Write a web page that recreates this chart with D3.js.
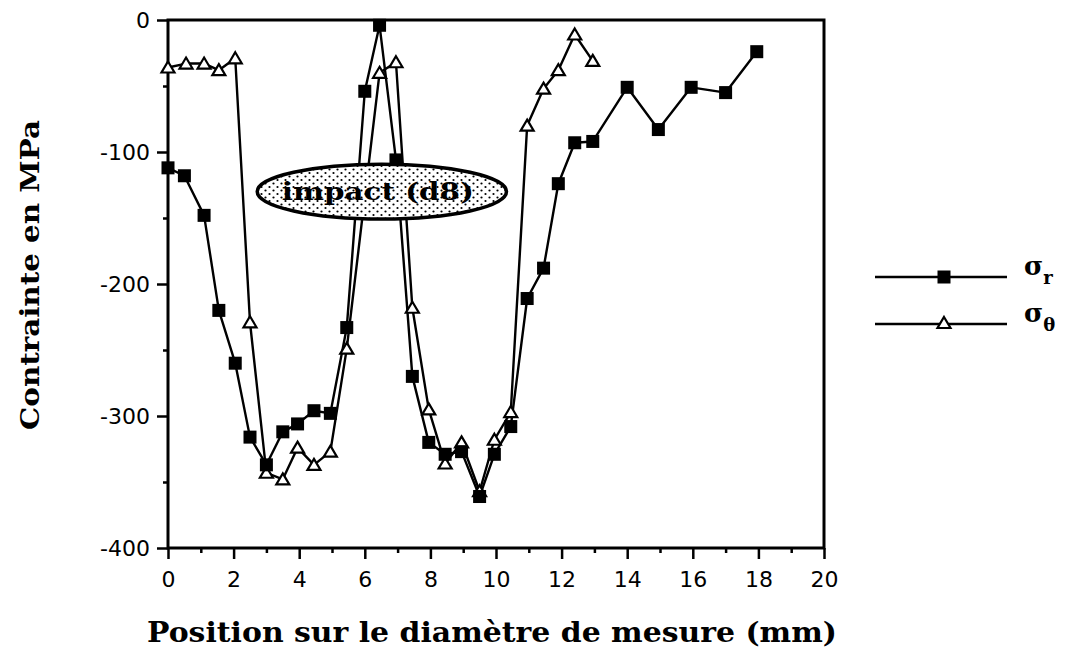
<!DOCTYPE html>
<html>
<head>
<meta charset="utf-8">
<script src="https://cdn.jsdelivr.net/npm/d3@7"></script>
<style>
  body { margin: 0; background: #fff; }
  svg { display: block; }
</style>
</head>
<body>
<svg id="chart" width="1071" height="658"></svg>
<script>
// Radial stress σr (filled squares): position (mm) and stress (MPa)
const radialX = [0, 0.5, 1.1, 1.55, 2.05, 2.5, 3.0, 3.5, 3.95, 4.45, 4.95, 5.45, 6.0, 6.45, 6.95,
                 7.45, 7.95, 8.45, 8.95, 9.5, 9.95, 10.45, 10.95, 11.45, 11.9, 12.4, 12.95,
                 14.0, 14.95, 15.95, 17.0, 17.95];
const radialStress = [-112, -118, -148, -220, -260, -316, -337, -312, -306, -296, -298, -233, -54, -4, -106,
                      -270, -320, -329, -327, -361, -329, -308, -211, -188, -124, -93, -92,
                      -51, -83, -51, -55, -24];

// Hoop stress σθ (open triangles)
const hoopX = [0, 0.55, 1.1, 1.55, 2.05, 2.5, 3.0, 3.5, 3.95, 4.45, 4.95, 5.45, 6.45, 6.95,
               7.45, 7.95, 8.45, 8.95, 9.5, 9.95, 10.45, 10.95, 11.45, 11.9, 12.4, 12.95];
const hoopStress = [-36, -33, -33, -38, -29, -229, -343, -348, -324, -337, -327, -249, -40, -32,
                    -218, -295, -336, -320, -357, -318, -297, -80, -52, -38, -11, -31];

const xTicks = [0, 2, 4, 6, 8, 10, 12, 14, 16, 18, 20];
const xMinorTicks = [1, 3, 5, 7, 9, 11, 13, 15, 17, 19];
const yTicks = [0, -100, -200, -300, -400];
const yMinorTicks = [-50, -150, -250, -350];

const xTitle = "Position sur le diamètre de mesure (mm)";
const yTitle = "Contrainte en MPa";
const impactLabel = "impact (d8)";
const legendItems = [
  { sub: "r", shape: "square" },
  { sub: "θ", shape: "triangle" }
];

const svg = d3.select("#chart");
const plotLeft = 168, plotRight = 824, plotTop = 20, plotBottom = 548;

const x = d3.scaleLinear().domain([0, 20]).range([plotLeft, plotRight]);
const y = d3.scaleLinear().domain([-400, 0]).range([plotBottom, plotTop]);

const tickFont = "'DejaVu Sans', sans-serif";
const titleFont = "'DejaVu Serif', serif";

// Dot stipple used inside the impact ellipse
const defs = svg.append("defs");
const pat = defs.append("pattern")
  .attr("id", "stipple").attr("patternUnits", "userSpaceOnUse")
  .attr("width", 8).attr("height", 7);
pat.append("rect").attr("width", 8).attr("height", 7).attr("fill", "#fff");
pat.append("circle").attr("cx", 1.5).attr("cy", 1.5).attr("r", 1.1).attr("fill", "#000");
pat.append("circle").attr("cx", 5.5).attr("cy", 5).attr("r", 1.1).attr("fill", "#000");

// Axes: labelled major ticks plus short minor ticks
function styleAxis(g) {
  g.select(".domain").remove();
  g.selectAll(".tick line").attr("stroke", "#000").attr("stroke-width", 2.5);
  g.selectAll(".tick text").attr("fill", "#000")
    .style("font-family", tickFont).style("font-size", "22px");
}

svg.append("g").attr("transform", `translate(0,${plotBottom})`)
  .call(d3.axisBottom(x).tickValues(xTicks).tickSize(11).tickPadding(12).tickFormat(d => String(d)))
  .call(styleAxis);
svg.append("g").attr("transform", `translate(0,${plotBottom})`)
  .call(d3.axisBottom(x).tickValues(xMinorTicks).tickSize(5).tickFormat(""))
  .call(styleAxis);
svg.append("g").attr("transform", `translate(${plotLeft},0)`)
  .call(d3.axisLeft(y).tickValues(yTicks).tickSize(11).tickPadding(7).tickFormat(d => String(d)))
  .call(styleAxis);
svg.append("g").attr("transform", `translate(${plotLeft},0)`)
  .call(d3.axisLeft(y).tickValues(yMinorTicks).tickSize(5).tickFormat(""))
  .call(styleAxis);

// Plot frame
svg.append("rect")
  .attr("x", plotLeft).attr("y", plotTop)
  .attr("width", plotRight - plotLeft).attr("height", plotBottom - plotTop)
  .attr("fill", "none").attr("stroke", "#000").attr("stroke-width", 3);

// Series
const line = d3.line().x(d => x(d[0])).y(d => y(d[1]));
const radial = radialX.map((v, i) => [v, radialStress[i]]);
const hoop = hoopX.map((v, i) => [v, hoopStress[i]]);

svg.append("path").datum(radial).attr("d", line)
  .attr("fill", "none").attr("stroke", "#000").attr("stroke-width", 2.4).attr("stroke-linejoin", "round");
svg.append("path").datum(hoop).attr("d", line)
  .attr("fill", "none").attr("stroke", "#000").attr("stroke-width", 2.4).attr("stroke-linejoin", "round");

const sq = 13;
const triPath = "M0,-6 L6.5,5 L-6.5,5 Z";

function drawSquares(g, data) {
  g.selectAll("rect.pt").data(data).join("rect").attr("class", "pt")
    .attr("x", d => x(d[0]) - sq / 2).attr("y", d => y(d[1]) - sq / 2)
    .attr("width", sq).attr("height", sq).attr("fill", "#000");
}
function drawTriangles(g, data) {
  g.selectAll("path.pt").data(data).join("path").attr("class", "pt")
    .attr("transform", d => `translate(${x(d[0])},${y(d[1])})`)
    .attr("d", triPath).attr("fill", "#fff").attr("stroke", "#000").attr("stroke-width", 2.2);
}
drawTriangles(svg.append("g"), hoop);
drawSquares(svg.append("g"), radial);

// Impact annotation (centred on the impact zone, in data units)
const impact = { cx: 6.52, cy: -130, rx: 3.8, ry: 20.8 };
const ig = svg.append("g");
ig.append("ellipse")
  .attr("cx", x(impact.cx)).attr("cy", y(impact.cy))
  .attr("rx", x(impact.cx + impact.rx) - x(impact.cx))
  .attr("ry", y(impact.cy - impact.ry) - y(impact.cy))
  .attr("fill", "url(#stipple)").attr("stroke", "#000").attr("stroke-width", 3.5);
ig.append("text")
  .attr("x", x(impact.cx) - 4).attr("y", y(impact.cy) + 8)
  .attr("text-anchor", "middle")
  .attr("textLength", 192).attr("lengthAdjust", "spacingAndGlyphs")
  .style("font-family", titleFont).style("font-weight", "bold").style("font-size", "25px")
  .text(impactLabel);

// Axis titles
svg.append("text")
  .attr("x", 492).attr("y", 642).attr("text-anchor", "middle")
  .attr("textLength", 690).attr("lengthAdjust", "spacingAndGlyphs")
  .style("font-family", titleFont).style("font-weight", "bold").style("font-size", "28px")
  .text(xTitle);
svg.append("text")
  .attr("transform", "translate(39,275) rotate(-90)").attr("text-anchor", "middle")
  .attr("textLength", 310).attr("lengthAdjust", "spacingAndGlyphs")
  .style("font-family", titleFont).style("font-weight", "bold").style("font-size", "26px")
  .text(yTitle);

// Legend
const legend = svg.append("g");
legendItems.forEach((item, i) => {
  const ly = 277 + i * 47;
  legend.append("line").attr("x1", 875).attr("x2", 1007).attr("y1", ly).attr("y2", ly)
    .attr("stroke", "#000").attr("stroke-width", 2.4);
  if (item.shape === "square") {
    legend.append("rect").attr("x", 944 - sq / 2).attr("y", ly - sq / 2)
      .attr("width", sq).attr("height", sq).attr("fill", "#000");
  } else {
    legend.append("path").attr("transform", `translate(944,${ly - 1})`).attr("d", triPath)
      .attr("fill", "#fff").attr("stroke", "#000").attr("stroke-width", 2.2);
  }
  const t = legend.append("text").attr("x", 1024).attr("y", ly - 2)
    .style("font-family", titleFont).style("font-weight", "bold").style("font-size", "26px");
  t.append("tspan").text("σ");
  t.append("tspan").attr("dy", 9).style("font-size", "18px").text(item.sub);
});
</script>
</body>
</html>
